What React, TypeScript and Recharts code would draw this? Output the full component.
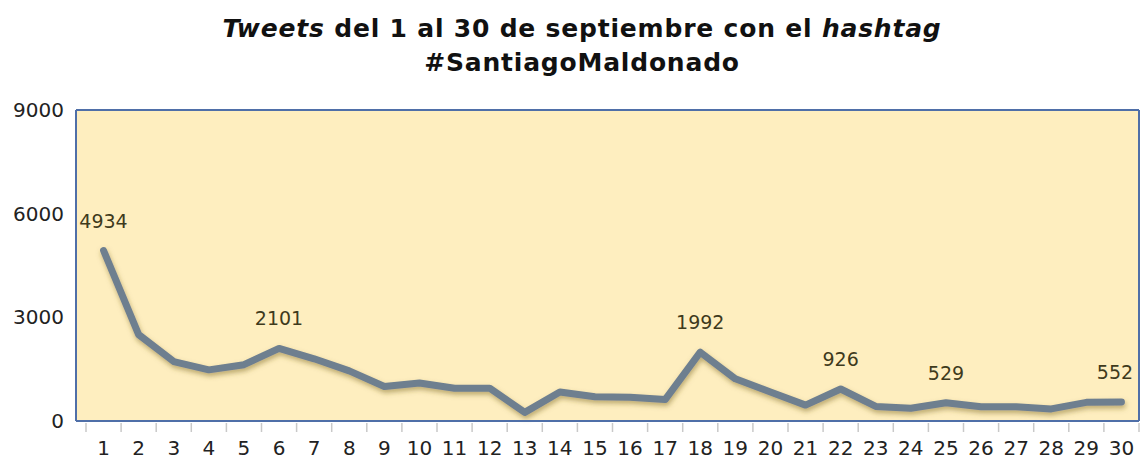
import { LineChart, Line, XAxis, YAxis, CartesianGrid, LabelList } from 'recharts';

const days = [
  1, 2, 3, 4, 5, 6, 7, 8, 9, 10, 11, 12, 13, 14, 15,
  16, 17, 18, 19, 20, 21, 22, 23, 24, 25, 26, 27, 28, 29, 30,
];
const tweets = [
  4934, 2500, 1720, 1480, 1630, 2101, 1800, 1450, 1000, 1100, 950, 950, 250, 840, 700,
  690, 620, 1992, 1220, 840, 460, 926, 420, 370, 529, 410, 410, 350, 540, 552,
];
const labeledDays = [1, 6, 18, 22, 25, 30];
const yTicks = [0, 3000, 6000, 9000];

const data = days.map((d, i) => ({ day: d, tweets: tweets[i] }));

const FONT = '"DejaVu Sans", Verdana, sans-serif';
const BORDER = '#4f6fa8';

function DayTick(props: any) {
  const { x, y, payload, index } = props;
  const half = payload?.offset ?? 17.5;
  return (
    <g>
      <line x1={x - half} x2={x - half} y1={y + 2} y2={y + 11} stroke="#c9c9c9" strokeWidth={1.5} />
      {index === days.length - 1 && (
        <line x1={x + half} x2={x + half} y1={y + 2} y2={y + 11} stroke="#c9c9c9" strokeWidth={1.5} />
      )}
      <text x={x} y={y + 34} textAnchor="middle" fill="#222" fontSize={20} fontFamily={FONT}>
        {payload.value}
      </text>
    </g>
  );
}

function PeakLabel(props: any) {
  const { x, y, value, index } = props;
  if (!labeledDays.includes(days[index])) return null;
  // keep the last label inside the plot's right edge
  const cx = Math.min(x, 1141 - 26);
  return (
    <text x={cx} y={y - 23} textAnchor="middle" fill="#3e3a1c" fontSize={19} fontFamily={FONT}>
      {value}
    </text>
  );
}

export default function App() {
  return (
    <div style={{ position: 'absolute', left: 0, top: 0, width: 1142, height: 461, background: '#fff' }}>
      <div
        style={{
          position: 'absolute',
          left: 0,
          top: 12,
          width: 1164,
          textAlign: 'center',
          fontFamily: FONT,
          fontWeight: 'bold',
          fontSize: 25,
          letterSpacing: 0.8,
          lineHeight: '34px',
          color: '#111',
        }}
      >
        <i>Tweets</i> del 1 al 30 de septiembre con el <i>hashtag</i>
        <br />
        #SantiagoMaldonado
      </div>
      <LineChart width={1142} height={461} data={data} margin={{ top: 110, right: 3, bottom: 0, left: 8 }}>
        <defs>
          <filter id="lineShadow" x="-5%" y="-20%" width="110%" height="160%">
            <feDropShadow dx="1" dy="3" stdDeviation="2.5" floodColor="#7a6520" floodOpacity="0.5" />
          </filter>
        </defs>
        <CartesianGrid
          fill="#feeebf"
          stroke={BORDER}
          strokeWidth={2}
          horizontalCoordinatesGenerator={({ offset }: any) => [offset.top, offset.top + offset.height]}
          verticalCoordinatesGenerator={({ offset }: any) => [offset.left, offset.left + offset.width]}
        />
        <XAxis
          dataKey="day"
          scale="band"
          height={40}
          padding={{ left: 10, right: 0 }}
          axisLine={{ stroke: BORDER, strokeWidth: 2 }}
          tickLine={false}
          tickSize={0}
          tickMargin={0}
          interval={0}
          tick={<DayTick />}
        />
        <YAxis
          width={68}
          domain={[0, 9000]}
          ticks={yTicks}
          interval={0}
          axisLine={{ stroke: BORDER, strokeWidth: 2 }}
          tickLine={false}
          tickSize={0}
          tickMargin={12}
          tick={{ fill: '#222', fontSize: 20, fontFamily: FONT }}
        />
        <Line
          type="linear"
          dataKey="tweets"
          stroke="#6e7f8f"
          strokeWidth={7}
          strokeLinecap="round"
          strokeLinejoin="round"
          dot={false}
          activeDot={false}
          filter="url(#lineShadow)"
          isAnimationActive={false}
        >
          <LabelList dataKey="tweets" content={<PeakLabel />} />
        </Line>
      </LineChart>
    </div>
  );
}
